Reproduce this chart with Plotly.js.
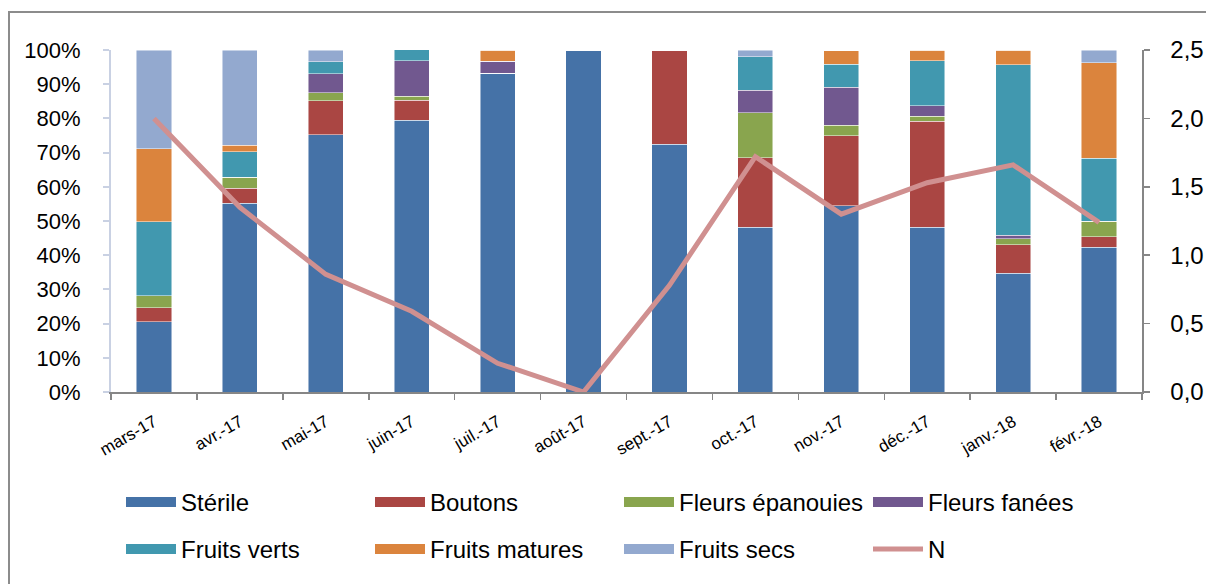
<!DOCTYPE html>
<html>
<head>
<meta charset="utf-8">
<script src="https://cdn.plot.ly/plotly-3.0.1.min.js"></script>
<style>
html,body{margin:0;padding:0;background:#fff;}
#chart{width:1206px;height:584px;}
</style>
</head>
<body>
<div id="chart"></div>
<script>
const months = ["mars-17","avr.-17","mai-17","juin-17","juil.-17","août-17","sept.-17","oct.-17","nov.-17","déc.-17","janv.-18","févr.-18"];
const sterile        = [20.5, 55.2, 75.2, 79.5, 93.2, 100, 72.5, 48.2, 54.4, 48.2, 34.7, 42.3];
const boutons        = [4.1, 4.4, 9.9, 5.8, 0, 0, 27.5, 20.3, 20.6, 31.0, 8.4, 3.1];
const fleursEpanouies= [3.6, 3.2, 2.4, 1.2, 0, 0, 0, 13.2, 3.0, 1.4, 1.7, 4.5];
const fleursFanees   = [0, 0, 5.5, 10.3, 3.5, 0, 0, 6.6, 11.1, 3.1, 1.0, 0];
const fruitsVerts    = [21.6, 7.5, 3.5, 3.3, 0, 0, 0, 9.8, 6.7, 13.1, 49.9, 18.5];
const fruitsMatures  = [21.4, 1.8, 0, 0, 3.3, 0, 0, 0, 4.0, 3.2, 4.2, 27.9];
const fruitsSecs     = [28.7, 27.9, 3.5, 0, 0, 0, 0, 1.9, 0, 0, 0.1, 3.7];
const nValues        = [2.0, 1.35, 0.86, 0.59, 0.21, 0.0, 0.78, 1.72, 1.30, 1.53, 1.66, 1.24];

const seriesNames = ["Stérile","Boutons","Fleurs épanouies","Fleurs fanées","Fruits verts","Fruits matures","Fruits secs"];
const seriesData = [sterile, boutons, fleursEpanouies, fleursFanees, fruitsVerts, fruitsMatures, fruitsSecs];
const colors = ["#4572A7","#AA4643","#89A54E","#71588F","#4198AF","#DB843D","#93A9CF"];
const lineColor = "#D09090";

const FONT = '"Liberation Sans", Arial, sans-serif';

const traces = [];
seriesData.forEach((vals, i) => {
  traces.push({
    type: 'bar',
    name: seriesNames[i],
    x: months,
    y: vals.map(v => v / 100),
    marker: {color: colors[i], line: {color: 'rgba(255,255,255,0.6)', width: 0.8}},
    showlegend: false,
    legendgroup: seriesNames[i],
    hoverinfo: 'skip'
  });
});

traces.push({
  type: 'scatter',
  mode: 'lines',
  name: 'N',
  x: months,
  y: nValues,
  yaxis: 'y2',
  line: {color: lineColor, width: 5},
  legend: 'legend2',
  legendrank: 100,
  hoverinfo: 'skip'
});

// legend entries for the bar series (wide swatches like the original)
seriesNames.forEach((nm, i) => {
  traces.push({
    type: 'scatter', mode: 'lines', name: nm,
    x: [null], y: [null],
    line: {color: colors[i], width: 16},
    legendgroup: nm,
    legend: i < 4 ? 'legend' : 'legend2',
    legendrank: i + 1,
    hoverinfo: 'skip'
  });
});

const L = 111, R = 64, T = 50, B = 192;
const W = 1206 - L - R, H = 584 - T - B;
const px = x => (x - L) / W;
const py = y => (584 - B - y) / H;

const legendCommon = {
  orientation: 'h', traceorder: 'normal',
  xanchor: 'left', yanchor: 'top',
  entrywidth: 184, entrywidthmode: 'pixels',
  itemwidth: 50,
  font: {family: FONT, size: 24, color: '#000'},
  bgcolor: 'rgba(0,0,0,0)'
};

const layout = {
  width: 1206, height: 584,
  margin: {l: L, r: R, t: T, b: B, pad: 0, autoexpand: false},
  paper_bgcolor: '#fff', plot_bgcolor: '#fff',
  separators: ',.',
  barmode: 'stack',
  bargap: 0.59,
  showlegend: true,
  font: {family: FONT, color: '#000', size: 22},
  xaxis: {
    type: 'category',
    showgrid: false, zeroline: false,
    showline: true, linecolor: '#868686', linewidth: 1.5,
    ticks: 'outside', tickson: 'boundaries', ticklen: 6, tickcolor: '#868686', tickwidth: 1.5,
    tickangle: -30,
    ticklabelstandoff: 12,
    tickfont: {family: FONT, size: 17, color: '#000'},
    automargin: false,
    fixedrange: true
  },
  yaxis: {
    range: [0, 1], dtick: 0.1, tickformat: '.0%',
    showgrid: false, zeroline: false,
    showline: true, linecolor: '#C9D1E3', linewidth: 2,
    ticks: 'outside', ticklen: 6, tickcolor: '#C9D1E3', tickwidth: 2,
    ticklabelstandoff: 18,
    tickfont: {family: FONT, size: 22, color: '#000'},
    automargin: false,
    fixedrange: true
  },
  yaxis2: {
    overlaying: 'y', side: 'right',
    range: [0, 2.5], dtick: 0.5, tickformat: '.1f',
    showgrid: false, zeroline: false,
    showline: true, linecolor: '#868686', linewidth: 1.5,
    ticks: 'outside', ticklen: 6, tickcolor: '#868686', tickwidth: 1.5,
    ticklabelstandoff: 16,
    tickfont: {family: FONT, size: 24, color: '#000'},
    automargin: false,
    fixedrange: true
  },
  legend: Object.assign({}, legendCommon, {x: px(121), y: py(480)}),
  legend2: Object.assign({}, legendCommon, {x: px(121), y: py(527)}),
  shapes: [{
    type: 'path', xref: 'paper', yref: 'paper',
    path: `M ${px(9)} ${py(600)} L ${px(9)} ${py(12)} L ${px(1220)} ${py(12)}`,
    line: {color: '#8C8C8C', width: 2}
  }]
};

Plotly.newPlot('chart', traces, layout, {displayModeBar: false, staticPlot: true});
</script>
</body>
</html>
